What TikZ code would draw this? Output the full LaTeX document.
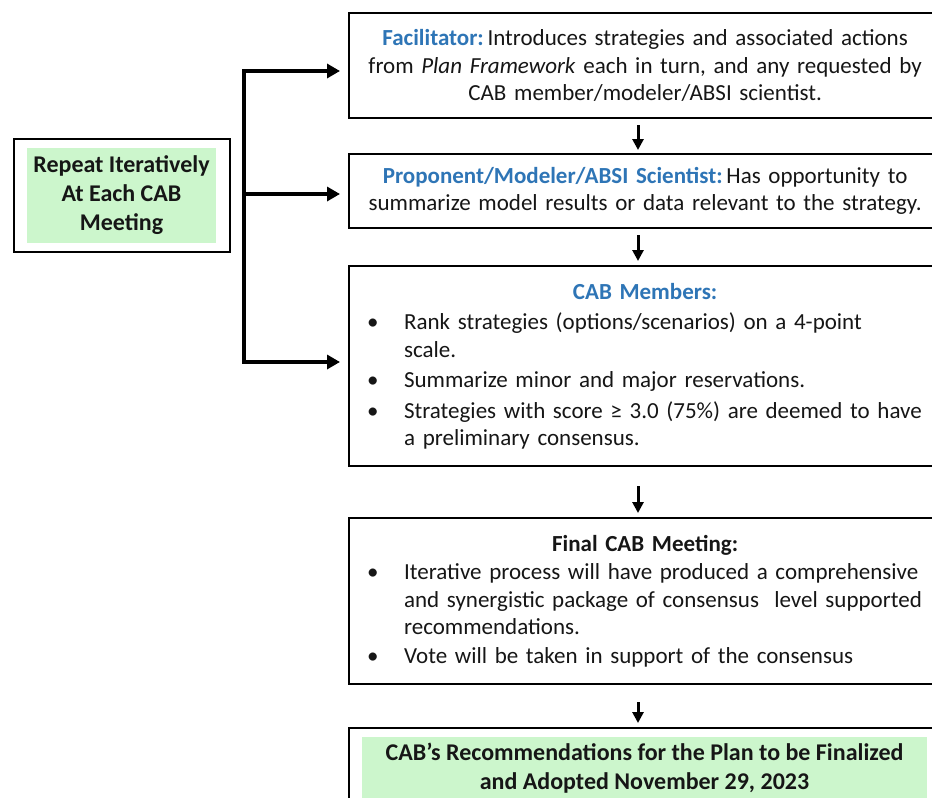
\documentclass[tikz,border=0pt]{standalone}
\usepackage{fontspec}
\setmainfont{Carlito}
\usetikzlibrary{arrows.meta}
\definecolor{titleblue}{RGB}{46,117,182}
\definecolor{txt}{RGB}{22,22,22}
\definecolor{softgreen}{RGB}{204,246,204}
\newcommand{\bitem}{\par\hangindent=49pt\hangafter=1\noindent\hspace*{12pt}\makebox[37pt][l]{\textbullet}}
\newcommand{\nl}{\hfil\break}
\tikzset{
  box/.style={draw=black, line width=2.2pt, fill=white, inner xsep=6pt, inner ysep=4pt,
    text=txt, font=\fontsize{23}{27.5}\selectfont, anchor=north west},
  greenbox/.style={fill=softgreen, inner sep=0pt, text=txt, align=center,
    font=\fontsize{24}{29}\selectfont\bfseries},
  bigarr/.style={line width=3.4pt, -{Triangle[length=13pt,width=14pt]}},
  smallarr/.style={line width=3pt, -{Triangle[length=11pt,width=11pt]}},
  bracket/.style={line width=3.4pt}
}
\begin{document}
\begin{tikzpicture}[x=1pt,y=-1pt]
\useasboundingbox (0,0) rectangle (932,798);
\clip (0,0) rectangle (932,798);

% left box
\node[draw=black, line width=2.2pt, minimum width=216pt, minimum height=113pt, anchor=north west, inner sep=0pt] (rep) at (13,138) {};
\node[greenbox, minimum width=189pt, minimum height=95pt] (repg) at (121.5,195.5) {Repeat Iteratively\\At Each CAB\\Meeting};

% right boxes
\node[box, text width=580pt, minimum height=105pt, align=center] (b1) at (348,12)
  {\textcolor{titleblue}{\bfseries Facilitator:}\,Introduces strategies and associated actions\\
   from \textit{Plan Framework} each in turn, and any requested by\\
   CAB member/modeler/ABSI scientist.};

\node[box, text width=580pt, minimum height=74pt, align=center] (b2) at (348,153)
  {\textcolor{titleblue}{\bfseries Proponent/Modeler/ABSI Scientist:}\,Has opportunity to\\
   summarize model results or data relevant to the strategy.};

\node[box, text width=580pt, minimum height=200pt] (b3) at (348,265)
  {\setlength{\parskip}{3pt}\raggedright
   {\centering\textcolor{titleblue}{\bfseries CAB Members:}\par}
   \bitem Rank strategies (options/scenarios) on a 4-point\nl scale.
   \bitem Summarize minor and major reservations.
   \bitem Strategies with score ≥ 3.0 (75\%) are deemed to have\nl a preliminary consensus.\par};

\node[box, text width=580pt, minimum height=166pt] (b4) at (348,517)
  {\setlength{\parskip}{1pt}\raggedright
   {\centering\bfseries Final CAB Meeting:\par}
   \bitem Iterative process will have produced a comprehensive\nl and synergistic package of consensus\ \ level supported\nl recommendations.
   \bitem Vote will be taken in support of the consensus\par};

\node[box, minimum width=592pt, minimum height=83pt] (b5) at (348,727) {};
\node[greenbox, minimum width=565pt, minimum height=62pt] (b5g) at (644.5,768)
  {CAB’s Recommendations for the Plan to be Finalized\\and Adopted November 29, 2023};

% bracket connectors
\coordinate (top) at (244,71);
\coordinate (mid) at (244,194);
\coordinate (bot) at (244,362);
\draw[bracket] (top) -- (bot);
\draw[bigarr, shorten >=8pt] ([xshift=-1.7pt]top) -- (top -| b1.west);
\draw[bigarr, shorten >=8pt] (mid) -- (mid -| b2.west);
\draw[bigarr, shorten >=8pt] ([xshift=-1.7pt]bot) -- (bot -| b3.west);

% vertical arrows
\draw[smallarr, shorten <=6pt, shorten >=3pt] (638,0 |- b1.south) -- (638,0 |- b2.north);
\draw[smallarr, shorten <=6pt, shorten >=4pt] (638,0 |- b2.south) -- (638,0 |- b3.north);
\draw[smallarr, shorten <=19pt, shorten >=4pt] (638,0 |- b3.south) -- (638,0 |- b4.north);
\draw[smallarr, shorten <=17pt, shorten >=4pt] (638,0 |- b4.south) -- (638,0 |- b5.north);
\end{tikzpicture}
\end{document}
